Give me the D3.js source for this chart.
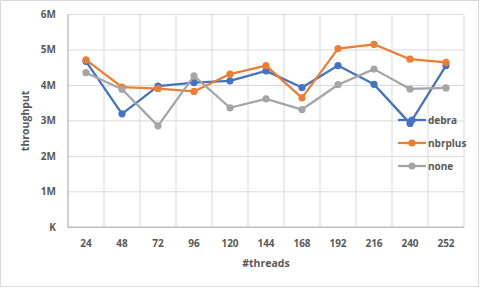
<!DOCTYPE html>
<html>
<head>
  <script src="https://cdnjs.cloudflare.com/ajax/libs/d3/7.8.5/d3.min.js"></script>
  <style>
    body { margin: 0; background: #fff; }
    text { font-family: "Open Sans", "Liberation Sans", sans-serif; font-weight: bold; fill: #595959; }
  </style>
</head>
<body>
  <svg></svg>
  <script>
    // chart data
    var threads = ["24", "48", "72", "96", "120", "144", "168", "192", "216", "240", "252"];
    var debra = [4.68, 3.2, 3.98, 4.08, 4.13, 4.41, 3.94, 4.56, 4.03, 2.93, 4.56];
    var nbrplus = [4.72, 3.95, 3.91, 3.83, 4.32, 4.56, 3.65, 5.04, 5.16, 4.74, 4.65];
    var none = [4.36, 3.89, 2.86, 4.27, 3.37, 3.62, 3.32, 4.02, 4.46, 3.90, 3.93];
    var yTicks = [0, 1, 2, 3, 4, 5, 6];
    var yTickLabels = ["K", "1M", "2M", "3M", "4M", "5M", "6M"];

    var series = [
      { name: "debra", values: debra, color: "#4472C4" },
      { name: "nbrplus", values: nbrplus, color: "#ED7D31" },
      { name: "none", values: none, color: "#A5A5A5" }
    ];

    var W = 480, H = 288;
    var svg = d3.select("svg").attr("width", W).attr("height", H);

    // outer chart border
    svg.append("rect")
      .attr("x", 0.5).attr("y", 0.5)
      .attr("width", W - 2).attr("height", H - 2)
      .attr("fill", "#fff").attr("stroke", "#D9D9D9");

    var plotLeft = 68, plotRight = 464, plotTop = 14.5, plotBottom = 227.3;

    var x = d3.scaleBand().domain(threads).range([plotLeft, plotRight]);
    var y = d3.scaleLinear().domain([0, 6]).range([plotBottom, plotTop]);

    var g = svg.append("g");

    // horizontal gridlines
    g.selectAll("line.h").data(yTicks).enter().append("line")
      .attr("x1", plotLeft).attr("x2", plotRight)
      .attr("y1", function(d) { return y(d); })
      .attr("y2", function(d) { return y(d); })
      .attr("stroke", function(d) { return d === 0 ? "#BFBFBF" : "#D9D9D9"; })
      .attr("stroke-width", function(d) { return d === 0 ? 1.5 : 1; });

    // vertical gridlines at category boundaries
    var edges = threads.map(function(t) { return x(t); }).concat([plotRight]);
    g.selectAll("line.v").data(edges).enter().append("line")
      .attr("x1", function(d) { return d; }).attr("x2", function(d) { return d; })
      .attr("y1", plotTop).attr("y2", plotBottom)
      .attr("stroke", function(d, i) { return i === 0 ? "#BFBFBF" : "#D9D9D9"; })
      .attr("stroke-width", function(d, i) { return i === 0 ? 1.5 : 1; });

    // y tick labels
    g.selectAll("text.yl").data(yTicks).enter().append("text")
      .attr("x", 56)
      .attr("y", function(d) { return y(d); })
      .attr("dy", "0.35em")
      .attr("text-anchor", "end")
      .attr("font-size", 10)
      .text(function(d, i) { return yTickLabels[i]; });

    // x tick labels
    g.selectAll("text.xl").data(threads).enter().append("text")
      .attr("x", function(d) { return x(d) + x.bandwidth() / 2; })
      .attr("y", 243)
      .attr("dy", "0.35em")
      .attr("text-anchor", "middle")
      .attr("font-size", 10)
      .text(function(d) { return d; });

    // axis titles
    svg.append("text")
      .attr("x", (plotLeft + plotRight) / 2).attr("y", 263)
      .attr("dy", "0.35em")
      .attr("text-anchor", "middle")
      .attr("font-size", 10.5)
      .text("#threads");

    svg.append("text")
      .attr("transform", "translate(25," + (plotTop + plotBottom) / 2 + ") rotate(-90)")
      .attr("dy", "0.35em")
      .attr("text-anchor", "middle")
      .attr("font-size", 10.5)
      .text("throughput");

    var line = d3.line()
      .x(function(d, i) { return x(threads[i]) + x.bandwidth() / 2; })
      .y(function(d) { return y(d); });

    series.forEach(function(s) {
      var sg = svg.append("g");
      sg.append("path")
        .attr("d", line(s.values))
        .attr("fill", "none")
        .attr("stroke", s.color)
        .attr("stroke-width", 2.25)
        .attr("stroke-linejoin", "round");
      sg.selectAll("circle").data(s.values).enter().append("circle")
        .attr("cx", function(d, i) { return x(threads[i]) + x.bandwidth() / 2; })
        .attr("cy", function(d) { return y(d); })
        .attr("r", 3.6)
        .attr("fill", s.color);
    });

    // legend
    var legend = svg.append("g").selectAll("g").data(series).enter().append("g")
      .attr("transform", function(d, i) { return "translate(398," + (120 + i * 23) + ")"; });
    legend.append("line")
      .attr("x1", 0).attr("x2", 28)
      .attr("stroke", function(d) { return d.color; })
      .attr("stroke-width", 2.25);
    legend.append("circle")
      .attr("cx", 14).attr("r", 3.6)
      .attr("fill", function(d) { return d.color; });
    legend.append("text")
      .attr("x", 30).attr("dy", "0.35em")
      .attr("font-size", 10)
      .text(function(d) { return d.name; });
  </script>
</body>
</html>
